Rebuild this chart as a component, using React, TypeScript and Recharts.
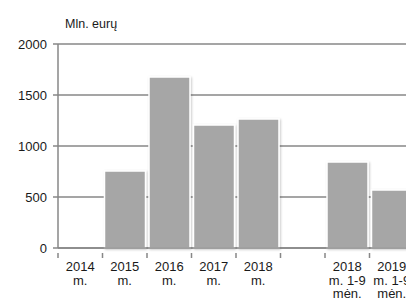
import { BarChart, Bar, XAxis, YAxis, CartesianGrid } from "recharts";

const categories = [
  "2014 m.",
  "2015 m.",
  "2016 m.",
  "2017 m.",
  "2018 m.",
  "",
  "2018 m. 1-9 mėn.",
  "2019 m. 1-9 mėn.",
];
const values = [0, 755, 1676, 1206, 1265, null, 843, 569];
const yTicks = [0, 500, 1000, 1500, 2000];

const data = categories.map((c, i) => ({ name: c, value: values[i] }));

const FONT = "'Liberation Sans', Arial, sans-serif";
const AXIS = "#878787";

const splitLabel = (s: string): string[] => {
  if (!s) return [];
  const parts = s.split(" ");
  const lines: string[] = [parts[0]];
  if (parts.length > 2) {
    lines.push(parts[1] + " " + parts[2]);
    lines.push(parts.slice(3).join(" "));
  } else if (parts.length === 2) {
    lines.push(parts[1]);
  }
  return lines;
};

const BAND = 44.5;

function XTick(props: any) {
  const { x, y, payload, index } = props;
  const lines = splitLabel(payload.value);
  const left = x - BAND / 2;
  return (
    <g>
      <line x1={left} x2={left} y1={y - 3} y2={y + 2} stroke={AXIS} strokeWidth={1.5} />
      {index === categories.length - 1 ? (
        <line x1={left + BAND} x2={left + BAND} y1={y - 3} y2={y + 2} stroke={AXIS} strokeWidth={1.5} />
      ) : null}
      <text x={x} y={y + 15} textAnchor="middle" fontSize={13} fontFamily={FONT} fill="#1a1a1a">
        {lines.map((l, i) => (
          <tspan key={i} x={x} dy={i === 0 ? 0 : 13.5}>
            {l}
          </tspan>
        ))}
      </text>
    </g>
  );
}

export default function App() {
  return (
    <div style={{ position: "absolute", left: 0, top: 0, width: 406, height: 298, overflow: "hidden", background: "#fff" }}>
      <svg width={406} height={40} style={{ position: "absolute", left: 0, top: 0 }}>
        <text x={65} y={28} fontSize={12.5} fontFamily={FONT} fill="#1a1a1a">
          Mln. eurų
        </text>
      </svg>
      <BarChart
        width={414}
        height={298}
        data={data}
        margin={{ top: 44, right: 0, left: 0, bottom: 0 }}
        barCategoryGap={2}
        style={{ position: "absolute", left: 0, top: 0 }}
      >
        <defs>
          <filter id="barShadow" x="-20%" y="-20%" width="140%" height="140%">
            <feDropShadow dx={1} dy={1} stdDeviation={1} floodColor="#000" floodOpacity={0.22} />
          </filter>
        </defs>
        <CartesianGrid vertical={false} stroke={AXIS} strokeWidth={1.5} />
        <XAxis
          dataKey="name"
          height={50}
          interval={0}
          axisLine={{ stroke: AXIS, strokeWidth: 1.5 }}
          tickLine={false}
          tick={<XTick />}
        />
        <YAxis
          width={58}
          domain={[0, 2000]}
          ticks={yTicks}
          interval={0}
          axisLine={{ stroke: AXIS, strokeWidth: 1.5 }}
          tickLine={{ stroke: AXIS, strokeWidth: 1.5 }}
          tickSize={5}
          tickMargin={6}
          tick={{ fontSize: 13, fontFamily: FONT, fill: "#1a1a1a" }}
        />
        <Bar
          dataKey="value"
          fill="#a6a6a6"
          stroke="#fff"
          strokeWidth={1.5}
          filter="url(#barShadow)"
          isAnimationActive={false}
        />
      </BarChart>
    </div>
  );
}
